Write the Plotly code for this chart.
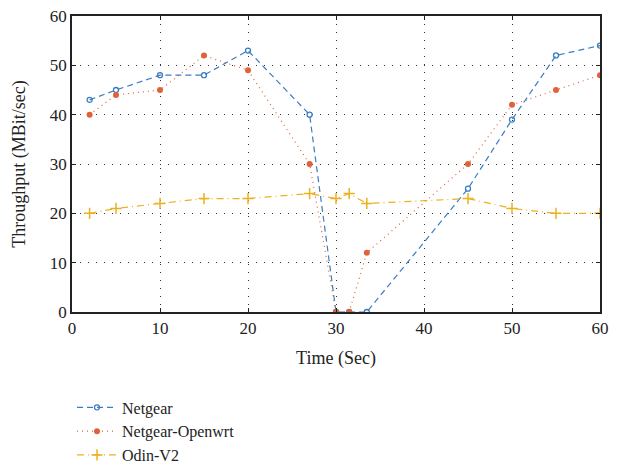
import plotly.graph_objects as go

time_netgear = [2, 5, 10, 15, 20, 27, 30, 31.5, 33.5, 45, 50, 55, 60]
netgear = [43, 45, 48, 48, 53, 40, 0, 0, 0, 25, 39, 52, 54]

time_openwrt = [2, 5, 10, 15, 20, 27, 30, 31.5, 33.5, 45, 50, 55, 60]
openwrt = [40, 44, 45, 52, 49, 30, 0, 0, 12, 30, 42, 45, 48]

time_odin = [2, 5, 10, 15, 20, 27, 30, 31.5, 33.5, 45, 50, 55, 60]
odin = [20, 21, 22, 23, 23, 24, 23, 24, 22, 23, 21, 20, 20]

x_ticks = [0, 10, 20, 30, 40, 50, 60]
y_ticks = [0, 10, 20, 30, 40, 50, 60]

FONT = "Liberation Serif"

fig = go.Figure()
fig.add_trace(go.Scatter(
    x=time_netgear, y=netgear, name="Netgear", mode="lines+markers",
    line=dict(color="#3A7DC0", width=1.2, dash="6px,4px"),
    marker=dict(symbol="circle-open", size=5, color="#3A7DC0", line=dict(width=1.3)),
))
fig.add_trace(go.Scatter(
    x=time_openwrt, y=openwrt, name="Netgear-Openwrt", mode="lines+markers",
    line=dict(color="#E0623A", width=1.2, dash="1px,4px"),
    marker=dict(symbol="circle", size=6, color="#E0623A"),
))
fig.add_trace(go.Scatter(
    x=time_odin, y=odin, name="Odin-V2", mode="lines+markers",
    line=dict(color="#EDB120", width=1.2, dash="7px,4px,1px,4px"),
    marker=dict(symbol="cross-thin-open", size=8, color="#EDB120", line=dict(width=1.5, color="#EDB120")),
))

axis_common = dict(
    showline=True, linecolor="#222", linewidth=1.5, mirror="ticks",
    ticks="inside", ticklen=4, tickcolor="#222", automargin=False,
    showgrid=True, gridcolor="#333", griddash="1px,7px", gridwidth=1.2,
    zeroline=False, tickfont=dict(family=FONT, size=17, color="#222"),
    ticklabeloverflow="allow",
)

fig.update_xaxes(range=[0, 60], tickvals=x_ticks,
                 title=dict(text="Time (Sec)", font=dict(family=FONT, size=18, color="#222"), standoff=14),
                 **axis_common)
fig.update_yaxes(range=[0, 60], tickvals=y_ticks,
                 title=dict(text="Throughput (MBit/sec)", font=dict(family=FONT, size=18, color="#222"), standoff=20),
                 **axis_common)

fig.update_layout(
    width=613, height=462,
    margin=dict(l=64, r=21, t=8, b=158, autoexpand=False),
    plot_bgcolor="white", paper_bgcolor="white",
    font=dict(family=FONT, color="#222"),
    legend=dict(x=-0.0, y=-0.265, xanchor="left", yanchor="top",
                font=dict(family=FONT, size=16, color="#222"),
                bgcolor="rgba(0,0,0,0)", tracegroupgap=0, itemwidth=40),
    showlegend=True,
)

fig.write_html("out.html")
